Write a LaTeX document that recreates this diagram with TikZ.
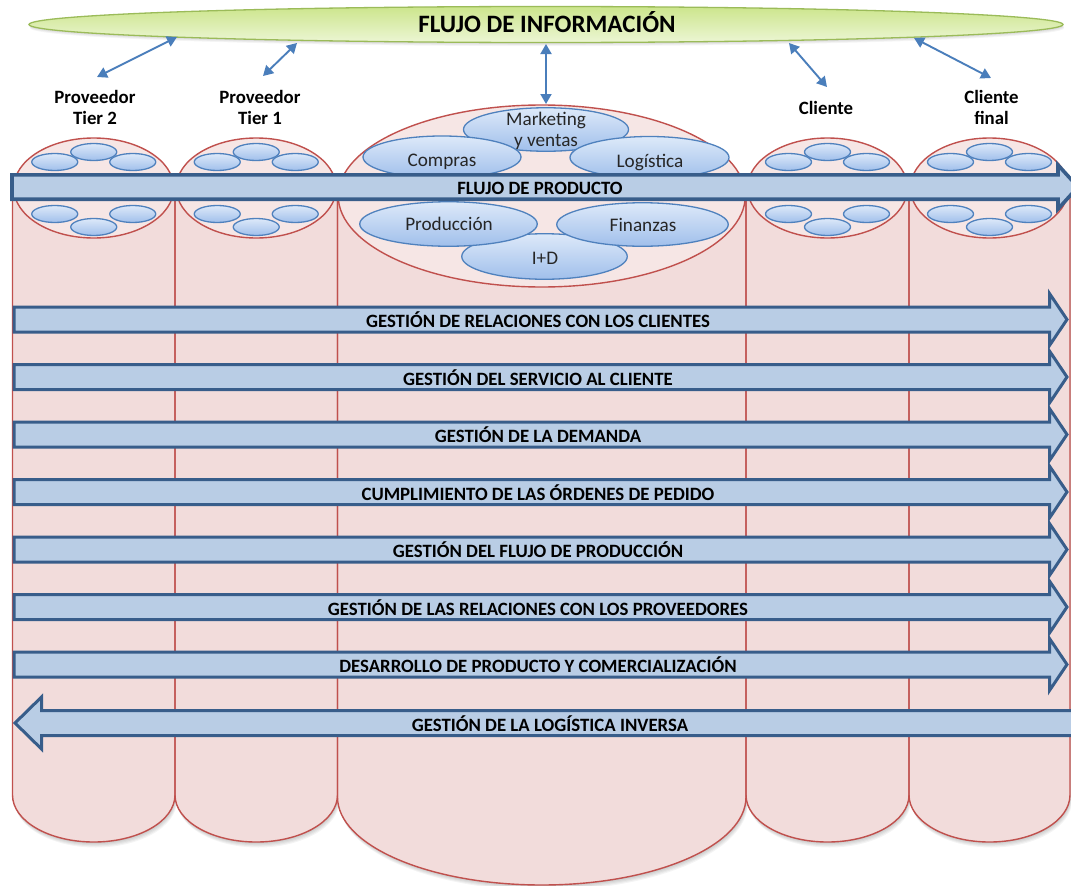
\documentclass[tikz,border=0pt]{standalone}
\usepackage{fontspec}
\setmainfont{Carlito}
\usetikzlibrary{shapes.geometric,arrows.meta}

\definecolor{colfill}{HTML}{F2DCDB}
\definecolor{capfill}{HTML}{F6E6E5}
\definecolor{colline}{HTML}{C0504D}
\definecolor{bandfill}{HTML}{B9CDE5}
\definecolor{bandline}{HTML}{385D8A}
\definecolor{blobtop}{HTML}{DDE9F9}
\definecolor{blobbot}{HTML}{A0BFEB}
\definecolor{blobline}{HTML}{4F81BD}
\definecolor{infotop}{HTML}{CCE58C}
\definecolor{infobot}{HTML}{ECF6D4}
\definecolor{infoline}{HTML}{9BBB59}
\definecolor{linkblue}{HTML}{4A7EBB}

\tikzset{
  colbody/.style={fill=colfill},
  coledge/.style={draw=colline, line width=1.4pt},
  colcap/.style={ellipse, draw=colline, line width=1.4pt, fill=capfill, inner sep=0pt},
  blob/.style={ellipse, draw=blobline, line width=1.3pt, top color=blobtop,
    bottom color=blobbot, inner sep=0pt, minimum width=46pt, minimum height=17pt},
  dept/.style={blob},
  depttext/.style={font=\fontsize{19.2}{21}\selectfont, text=black!85, align=center,
    inner sep=0pt, anchor=base},
  band/.style={fill=bandfill, draw=bandline, line width=3pt, line join=miter},
  bandtext/.style={font=\bfseries\fontsize{18.8}{21}\selectfont, inner sep=0pt},
  actor/.style={font=\bfseries\fontsize{18.8}{21}\selectfont, align=center, inner sep=0pt},
  link/.style={draw=linkblue, line width=1.9pt,
    {Triangle[length=10pt,width=11pt]}-{Triangle[length=10pt,width=11pt]}},
}

% column body: left x, right x, top y, start of bottom arc, arc depth
\newcommand\colpath[5]{(#1,#3) -- (#1,#4) arc[start angle=180,end angle=0,x radius={(#2-#1)/2},y radius=#5] -- (#2,#3) -- cycle}
\newcommand\coledgepath[5]{(#1,#3) -- (#1,#4) arc[start angle=180,end angle=0,x radius={(#2-#1)/2},y radius=#5] -- (#2,#3)}

% six small units inside a partner's cap
\newcommand\blobset[2]{%
  \node[blob] (#2tm) at (#1,152) {};
  \node[blob] (#2tl) at (#1-39,162) {};
  \node[blob] (#2tr) at (#1+39,162) {};
  \node[blob] (#2bl) at (#1-39,214) {};
  \node[blob] (#2br) at (#1+39,214) {};
  \node[blob] (#2bm) at (#1,227) {};
}

% process band running left to right
\newcommand\fwdband[3]{%
  \draw[band] (14,#1-12.5) -- (1049.5,#1-12.5) -- (1049.5,#1-26) -- (1067,#1)
    -- (1049.5,#1+26) -- (1049.5,#1+12.5) -- (14,#1+12.5) -- cycle;
  \node[bandtext] (#2) at (538,#1+0.5) {#3};
}

\begin{document}
\begin{tikzpicture}[x=1pt,y=-1pt]
\clip (0,0) rectangle (1071,886);
\fill[white] (0,0) rectangle (1071,886);

% soft shadows under the columns
\foreach \xa/\xb/\yt/\yb/\ry in {12.5/175/188/795/47, 175/337.5/188/795/47,
    337.5/746/196/797/88, 746/909/188/795/47, 909/1070/188/795/47}{
  \foreach \k in {1,...,5}
    \fill[black, opacity=0.045, shift={(0.4*\k,1.1*\k)}] \colpath{\xa}{\xb}{\yt}{\yb}{\ry};
}
% column bodies
\foreach \xa/\xb/\yt/\yb/\ry in {12.5/175/188/795/47, 175/337.5/188/795/47,
    337.5/746/196/797/88, 746/909/188/795/47, 909/1070/188/795/47}{
  \fill[colbody] \colpath{\xa}{\xb}{\yt}{\yb}{\ry};
}
\foreach \xa/\xb/\yt/\yb/\ry in {12.5/175/188/795/47, 175/337.5/188/795/47,
    337.5/746/196/797/88, 746/909/188/795/47, 909/1070/188/795/47}{
  \draw[coledge] \coledgepath{\xa}{\xb}{\yt}{\yb}{\ry};
}

% column caps
\node[colcap, minimum width=160pt, minimum height=100pt] (cap1) at (93.75,188) {};
\node[colcap, minimum width=160pt, minimum height=100pt] (cap2) at (256.25,188) {};
\node[colcap, minimum width=407pt, minimum height=182pt] (cap3) at (541.75,196) {};
\node[colcap, minimum width=160pt, minimum height=100pt] (cap4) at (827.5,188) {};
\node[colcap, minimum width=158pt, minimum height=100pt] (cap5) at (989.5,188) {};

\blobset{93.75}{sa}
\blobset{256.25}{sb}
\blobset{827.5}{ca}
\blobset{989.5}{cb}

% functions of the focal company
\node[dept, minimum width=165pt, minimum height=43.5pt] (mkt) at (546,129.5) {};
\node[dept, minimum width=165.5pt, minimum height=45.5pt] (rd) at (544.5,256.5) {};
\node[dept, minimum width=158pt, minimum height=42pt] (buy) at (442,157) {};
\node[dept, minimum width=159pt, minimum height=42pt] (log) at (649.5,157.5) {};
\node[dept, minimum width=177.5pt, minimum height=44.5pt] (prod) at (448.5,224) {};
\node[dept, minimum width=171.5pt, minimum height=43.5pt] (fin) at (642.5,224.5) {};
\node[depttext] (mktt) at (546,125.7) {Marketing};
\node[depttext] (mktt2) at (546,146.7) {y ventas};
\node[depttext] (buyt) at (442,166.6) {Compras};
\node[depttext] (logt) at (650,167.2) {Logística};
\node[depttext] (prodt) at (449,230.6) {Producción};
\node[depttext] (fint) at (643,231.6) {Finanzas};
\node[depttext] (rdt) at (545,264.3) {I+D};

% product flow
\draw[band, line width=3.6pt] (12,187-12.2) -- (1058,187-12.2) -- (1058,187-22) -- (1078,187)
  -- (1058,187+22) -- (1058,187+12.2) -- (12,187+12.2) -- cycle;
\node[bandtext] (pflow) at (540,188) {FLUJO DE PRODUCTO};

% business processes
\fwdband{319.5}{crm}{GESTIÓN DE RELACIONES CON LOS CLIENTES}
\fwdband{377}{csm}{GESTIÓN DEL SERVICIO AL CLIENTE}
\fwdband{434.5}{dem}{GESTIÓN DE LA DEMANDA}
\fwdband{492}{ord}{CUMPLIMIENTO DE LAS ÓRDENES DE PEDIDO}
\fwdband{549.5}{mfg}{GESTIÓN DEL FLUJO DE PRODUCCIÓN}
\fwdband{607}{srm}{GESTIÓN DE LAS RELACIONES CON LOS PROVEEDORES}
\fwdband{664.5}{pdc}{DESARROLLO DE PRODUCTO Y COMERCIALIZACIÓN}

% returns flow, right to left
\draw[band] (1085,710.5) -- (41.5,710.5) -- (41.5,697) -- (15,723)
  -- (41.5,749) -- (41.5,735.5) -- (1085,735.5) -- cycle;
\node[bandtext] (rev) at (550,723.5) {GESTIÓN DE LA LOGÍSTICA INVERSA};

% information flow
\foreach \k in {1,...,4}
  \fill[black, opacity=0.04, shift={(0.3*\k,0.9*\k)}] (546,24.5) ellipse[x radius=517, y radius=18];
\node[ellipse, draw=infoline, line width=1.3pt, top color=infotop, bottom color=infobot,
  inner sep=0pt, minimum width=1034pt, minimum height=36pt] (info) at (546,24.5) {};
\node[font=\bfseries\fontsize{25}{28}\selectfont, inner sep=0pt, anchor=base]
  (infot) at (547,32.3) {FLUJO DE INFORMACIÓN};

% chain members
\node[actor] (t2) at (95,107.5) {Proveedor\\Tier 2};
\node[actor] (t1) at (260,107.5) {Proveedor\\Tier 1};
\node[actor] (cl) at (826,108) {Cliente};
\node[actor] (cf) at (991.5,107.5) {Cliente\\final};

% links to the information flow
\coordinate (i1) at (177,37);  \coordinate (e1) at (97,77);
\coordinate (i2) at (297,43);  \coordinate (e2) at (263,76);
\coordinate (i3) at (546,44);  \coordinate (e3) at (546,104);
\coordinate (i4) at (789,43);  \coordinate (e4) at (827,87);
\coordinate (i5) at (914,38);  \coordinate (e5) at (991,78);
\draw[link] (i1) -- (e1);
\draw[link] (i2) -- (e2);
\draw[link] (i3) -- (e3);
\draw[link] (i4) -- (e4);
\draw[link] (i5) -- (e5);
\end{tikzpicture}
\end{document}
